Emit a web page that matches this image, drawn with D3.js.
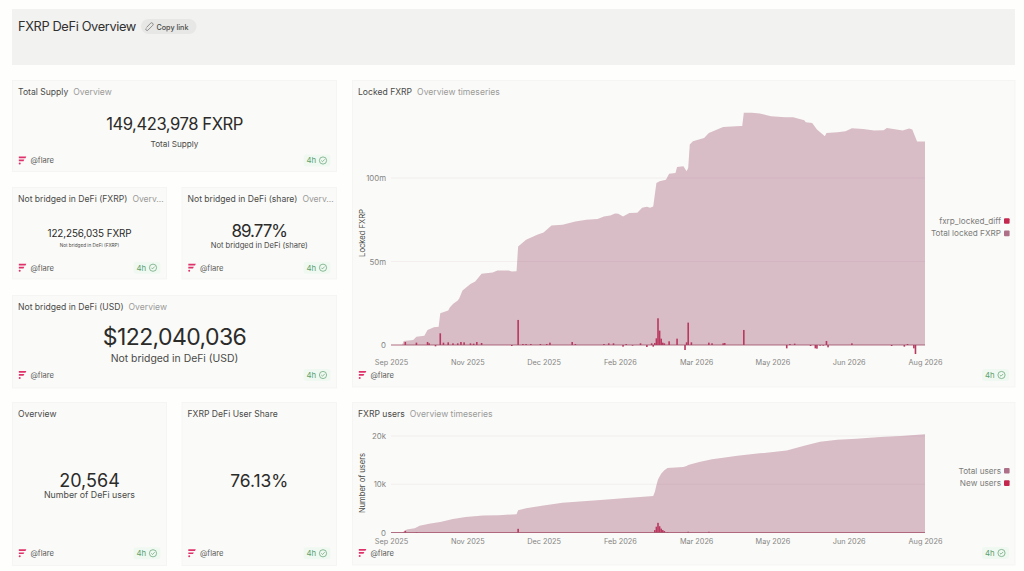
<!DOCTYPE html>
<html>
<head>
<meta charset="utf-8">
<title>FXRP DeFi Overview</title>
<script src="https://cdn.jsdelivr.net/npm/d3@7"></script>
<style>
html, body { margin: 0; padding: 0; background: #fefefd; overflow: hidden; }
svg { display: block; font-family: Inter, "Noto Sans", sans-serif; }
.tick text { font-family: Inter, "Noto Sans", sans-serif; }
</style>
</head>
<body>
<div id="page"></div>
<script>
// values
const startDate = "2025-09-15";
const tickDates = ["2025-09-15", "2025-11-02", "2025-12-20", "2026-02-06", "2026-03-26", "2026-05-13", "2026-06-30", "2026-08-17"];

// locked FXRP, in millions, at day offsets from startDate
const lockedDays = [0, 7, 8, 14, 16, 21, 23, 27, 30, 31, 36, 37, 39, 42, 43, 45, 50, 53, 57, 64, 67, 74, 76, 79, 80, 85, 92, 96, 101, 108, 116, 123, 130, 134, 138, 141, 143, 146, 150, 155, 158, 161, 163, 165, 166, 167, 169, 173, 175, 179, 180, 184, 186, 187, 188, 190, 197, 200, 209, 220, 221, 222, 227, 232, 239, 248, 253, 260, 261, 265, 268, 273, 274, 281, 286, 290, 297, 304, 310, 312, 322, 326, 328, 331, 336];
const lockedTotal = [0, 0, 2.4, 3, 5, 5.6, 9, 10.6, 11, 19, 20.6, 22.4, 24.6, 26.6, 28, 32.6, 36.6, 38, 42.6, 43.4, 44.6, 44.6, 44, 44.2, 59, 63, 66, 67.4, 71.6, 72, 74, 75, 75.4, 77, 77.6, 78.8, 78.6, 77, 79, 79.2, 82.2, 82.8, 82.2, 83, 90, 97, 98, 99, 102.6, 103, 106.6, 107, 104, 106, 120, 122, 124, 127, 130.6, 131.2, 131.2, 139, 139, 138.6, 137, 136.4, 136.4, 134.6, 133.4, 133, 129, 125, 127, 127.4, 128, 129.8, 129.4, 128.4, 128.6, 130, 128.4, 129.6, 129, 121.8, 121.8];

const lockedDiffDays = [9, 16, 23, 24, 28, 31, 33, 36, 39, 42, 44, 46, 50, 52, 54, 57, 76, 80, 83, 85, 88, 94, 98, 100, 114, 116, 134, 137, 140, 146, 148, 152, 157, 161, 164, 165, 166, 167, 168, 169, 170, 171, 172, 175, 180, 185, 186, 187, 189, 200, 202, 209, 210, 222, 249, 251, 254, 264, 267, 268, 270, 272, 274, 275, 290, 315, 323, 325, 329, 330];
const lockedDiff = [1.8, 1.4, 1.8, 1, -0.8, 7, 1.4, 1.6, 1, 1, 1.8, 1.6, 1, 0.8, 1.8, 1.2, -0.6, 15, 0.6, 0.6, 0.6, 0.6, 0.6, 1.4, 1.8, 0.6, 0.6, 1, 1, -1, 0.6, -0.4, 1, -1.2, 1, -1, 1.2, 4, 16, 8.6, 3.8, 1.4, 1, 2.2, 3.8, -3, 1.6, 13.4, 1.6, 1.4, 1, 1, 1.2, 9, -2, 0.6, 0.8, -0.6, -2, -2.2, -0.4, -0.4, 2.4, -1.4, 1, -0.6, -1, 0.6, -2, -5.4];

// FXRP users, in thousands
const userDays = [0, 7, 10, 15, 18, 24, 31, 39, 47, 58, 68, 79, 80, 85, 96, 108, 121, 134, 146, 159, 165, 166, 167, 168, 170, 172, 174, 184, 186, 187, 194, 202, 209, 218, 232, 249, 260, 270, 281, 293, 308, 321, 336];
const userTotal = [0, 0, 0.6, 0.9, 1.4, 1.8, 2.2, 2.8, 3.2, 3.5, 3.6, 3.8, 4.6, 5.05, 5.6, 6.15, 6.5, 6.8, 7.1, 7.4, 7.55, 8.4, 9.8, 11, 12.2, 12.9, 13.35, 13.56, 13.8, 14, 14.6, 15.2, 15.5, 15.9, 16.4, 17, 18, 18.8, 19.2, 19.45, 19.8, 20, 20.35];
const newUserDays = [9, 16, 80, 166, 167, 168, 169, 170, 171, 172, 174, 187, 200];
const newUsers = [0.35, 0.08, 0.76, 0.5, 1.2, 2, 1.3, 0.8, 0.5, 0.3, 0.1, 0.15, 0.15];

const lockedTicks = [0, 50, 100];
const userTicks = [0, 10, 20];

const colors = { total: "#a5607a", bar: "#b8385f", legendTotal: "#ad7088", legendBar: "#c4284f", logo: "#e0326a" };

const width = 1024, height = 571;

const svg = d3.select("#page").append("svg")
    .attr("width", width)
    .attr("height", height)
    .attr("viewBox", `0 0 ${width} ${height}`);

const day = d => d3.utcDay.offset(new Date(startDate + "T00:00:00Z"), d);
const x = d3.scaleUtc()
    .domain([new Date(tickDates[0] + "T00:00:00Z"), new Date(tickDates[tickDates.length - 1] + "T00:00:00Z")])
    .range([391, 925]);

function drawCard(b) {
    svg.append("rect")
        .attr("x", b.x).attr("y", b.y).attr("width", b.w).attr("height", b.h)
        .attr("fill", "#fafaf8").attr("stroke", "#f5f5f3").attr("stroke-width", 1);
}

function drawTitle(b, title, sub) {
    const t = svg.append("text")
        .attr("x", b.x + 5.5).attr("y", b.y + 14.5)
        .attr("font-size", 8.6);
    t.append("tspan").attr("fill", "#4a4a48").text(title);
    if (sub) t.append("tspan").attr("dx", 5).attr("fill", "#9b9b98").text(sub);
}

function drawFooter(b, yy) {
    // flare logo, three little bars
    const g = svg.append("g").attr("transform", `translate(${b.x + 6},${yy - 4})`).attr("fill", colors.logo);
    g.append("path").attr("d", "M0.3 0H7.8L7 1.8H0.3Z");
    g.append("path").attr("d", "M0.3 3.1H5.8L5 4.8H0.3Z");
    g.append("circle").attr("cx", 1.2).attr("cy", 7).attr("r", 1);
    svg.append("text").attr("x", b.x + 18).attr("y", yy + 2.8)
        .attr("font-size", 7.6).attr("fill", "#5c5c5a").text("@flare");

    const right = b.x + b.w - 6;
    svg.append("rect").attr("x", right - 27).attr("y", yy - 6).attr("width", 27).attr("height", 12)
        .attr("rx", 3).attr("fill", "#f0f9f1");
    svg.append("text").attr("x", right - 24).attr("y", yy + 2.8)
        .attr("font-size", 7.8).attr("fill", "#5e9e6e").text("4h");
    svg.append("circle").attr("cx", right - 7.5).attr("cy", yy).attr("r", 3.6)
        .attr("fill", "none").attr("stroke", "#5e9e6e").attr("stroke-width", 0.7);
    svg.append("path").attr("d", `M${right - 9.2} ${yy}l1.2 1.2l2.2 -2.3`)
        .attr("fill", "none").attr("stroke", "#5e9e6e").attr("stroke-width", 0.7);
}

function drawStat(s) {
    const b = s.box;
    drawCard(b);
    drawTitle(b, s.title, s.sub);
    const cx = b.x + b.w / 2;
    svg.append("text").attr("x", cx).attr("y", s.valueY).attr("text-anchor", "middle")
        .attr("font-size", s.valueSize).attr("letter-spacing", s.spacing).attr("fill", "#2b2b2a").text(s.value);
    if (s.label) {
        svg.append("text").attr("x", cx).attr("y", s.labelY).attr("text-anchor", "middle")
            .attr("font-size", s.labelSize).attr("fill", "#4a4a48").text(s.label);
    }
    drawFooter(b, s.footY);
}

// header band
svg.append("rect").attr("x", 12).attr("y", 9).attr("width", 1003).attr("height", 56).attr("fill", "#f2f2f1");
svg.append("text").attr("x", 18).attr("y", 30.5).attr("font-size", 12.8).attr("letter-spacing", -0.36).attr("fill", "#2f2f2e").text("FXRP DeFi Overview");
svg.append("rect").attr("x", 141).attr("y", 19).attr("width", 55.5).attr("height", 15).attr("rx", 7.5).attr("fill", "#e7e7e5");
svg.append("text").attr("x", 156.5).attr("y", 29.5).attr("font-size", 7.2).attr("font-weight", 500).attr("fill", "#4a4a48").text("Copy link");
svg.append("path").attr("d", "M146.5 27.5l4 -4.2a1.5 1.5 0 0 1 2.2 2.1l-4.6 4.6a1 1 0 0 1 -2 -1.6")
    .attr("fill", "none").attr("stroke", "#666").attr("stroke-width", 0.7);

const stats = [
    { box: { x: 12.5, y: 80.5, w: 324, h: 91 }, title: "Total Supply", sub: "Overview", value: "149,423,978 FXRP", valueY: 130, valueSize: 16.6, spacing: -0.45, label: "Total Supply", labelY: 147, labelSize: 8.2, footY: 160.5 },
    { box: { x: 12.5, y: 187.5, w: 154, h: 91.5 }, title: "Not bridged in DeFi (FXRP)", sub: "Overv…", value: "122,256,035 FXRP", valueY: 237, valueSize: 9.9, spacing: -0.1, label: "Not bridged in DeFi (FXRP)", labelY: 247, labelSize: 4.7, footY: 267.7 },
    { box: { x: 182, y: 187.5, w: 154.5, h: 91.5 }, title: "Not bridged in DeFi (share)", sub: "Overv…", value: "89.77%", valueY: 237, valueSize: 17, spacing: -1, label: "Not bridged in DeFi (share)", labelY: 247.5, labelSize: 7.6, footY: 267.7 },
    { box: { x: 12.5, y: 295.5, w: 324, h: 92.5 }, title: "Not bridged in DeFi (USD)", sub: "Overview", value: "$122,040,036", valueY: 344.5, valueSize: 23, spacing: -0.6, label: "Not bridged in DeFi (USD)", labelY: 361.5, labelSize: 10.4, footY: 375 },
    { box: { x: 12.5, y: 402.5, w: 154, h: 163 }, title: "Overview", sub: "", value: "20,564", valueY: 486.5, valueSize: 18, spacing: 0, label: "Number of DeFi users", labelY: 497.5, labelSize: 8.8, footY: 553.3 },
    { box: { x: 182, y: 402.5, w: 154.5, h: 163 }, title: "FXRP DeFi User Share", sub: "", value: "76.13%", valueY: 486.5, valueSize: 17.4, spacing: 0, label: "", labelY: 0, labelSize: 0, footY: 553.3 }
];
stats.forEach(drawStat);

function drawChart(c) {
    const b = c.box;
    drawCard(b);
    drawTitle(b, c.title, c.sub);

    const y = d3.scaleLinear().domain(c.yDomain).range(c.yRange);
    const zero = y(0);

    const area = d3.area()
        .x((d, i) => x(day(c.areaDays[i])))
        .y0(zero)
        .y1(d => y(d));

    svg.append("path")
        .datum(c.area)
        .attr("d", area)
        .attr("fill", colors.total)
        .attr("fill-opacity", 0.4);

    // grid lines, faint over the area
    svg.append("g").selectAll("line")
        .data(c.yTicks.filter(d => d !== 0))
        .join("line")
        .attr("x1", x.range()[0]).attr("x2", x.range()[1])
        .attr("y1", d => y(d)).attr("y2", d => y(d))
        .attr("stroke", "#8a6a74").attr("stroke-opacity", 0.1).attr("stroke-width", 0.7);

    svg.append("g").selectAll("rect")
        .data(c.bars)
        .join("rect")
        .attr("x", (d, i) => x(day(c.barDays[i])) - 0.8)
        .attr("width", 1.6)
        .attr("y", d => Math.min(y(d), zero))
        .attr("height", d => Math.abs(y(d) - zero))
        .attr("fill", colors.bar);

    svg.append("line")
        .attr("x1", x.range()[0]).attr("x2", x.range()[1])
        .attr("y1", zero).attr("y2", zero)
        .attr("stroke", "#a04a64").attr("stroke-width", 0.8);

    const yAxis = svg.append("g")
        .attr("transform", "translate(386,0)")
        .call(d3.axisLeft(y).tickValues(c.yTicks).tickSize(0).tickFormat(c.yFormat));
    yAxis.select(".domain").remove();
    yAxis.selectAll("text").attr("x", 0).attr("font-size", 7.8).attr("fill", "#858583");

    const xAxis = svg.append("g")
        .attr("transform", `translate(0,${c.xLabelY})`)
        .call(d3.axisBottom(x).tickValues(tickDates.map(d => new Date(d + "T00:00:00Z"))).tickSize(0).tickFormat(d3.utcFormat("%b %Y")));
    xAxis.select(".domain").remove();
    xAxis.selectAll("text").attr("y", 0).attr("dy", "0.35em").attr("font-size", 7.3).attr("fill", "#858583");

    svg.append("text")
        .attr("transform", `translate(365,${c.yTitleY}) rotate(-90)`)
        .attr("text-anchor", "middle")
        .attr("font-size", 7.6).attr("fill", "#4a4a48").text(c.yTitle);

    // legend
    c.legend.forEach((l, i) => {
        const ly = c.legendY + i * 12.4;
        svg.append("text").attr("x", 1001).attr("y", ly).attr("dy", "0.35em")
            .attr("text-anchor", "end").attr("font-size", 8.2).attr("fill", "#7c7c7a").text(l.name);
        svg.append("rect").attr("x", 1004).attr("y", ly - 2.8).attr("width", 5.6).attr("height", 5.6)
            .attr("rx", 1).attr("fill", l.color);
    });

    drawFooter(b, b.y + b.h - 12);
}

drawChart({
    box: { x: 352.5, y: 80.5, w: 662.5, h: 306.5 },
    title: "Locked FXRP", sub: "Overview timeseries",
    yDomain: [0, 100], yRange: [345, 178], yTicks: lockedTicks,
    yFormat: d => d === 0 ? "0" : d + "m",
    yTitle: "Locked FXRP", yTitleY: 233,
    xLabelY: 362.7,
    areaDays: lockedDays, area: lockedTotal,
    barDays: lockedDiffDays, bars: lockedDiff,
    legend: [{ name: "fxrp_locked_diff", color: colors.legendBar }, { name: "Total locked FXRP", color: colors.legendTotal }],
    legendY: 221
});

drawChart({
    box: { x: 352.5, y: 402.5, w: 662.5, h: 162.5 },
    title: "FXRP users", sub: "Overview timeseries",
    yDomain: [0, 20], yRange: [532.5, 436], yTicks: userTicks,
    yFormat: d => d === 0 ? "0" : d + "k",
    yTitle: "Number of users", yTitleY: 483,
    xLabelY: 541.5,
    areaDays: userDays, area: userTotal,
    barDays: newUserDays, bars: newUsers,
    legend: [{ name: "Total users", color: colors.legendTotal }, { name: "New users", color: colors.legendBar }],
    legendY: 470.7
});
</script>
</body>
</html>
